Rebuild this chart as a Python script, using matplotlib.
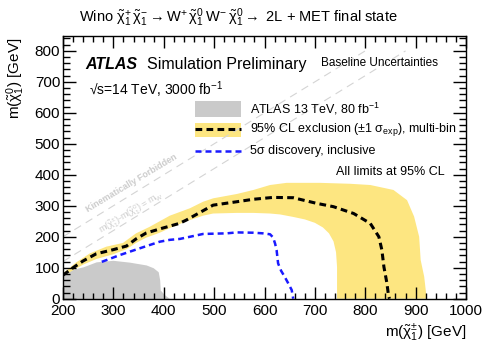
import matplotlib
matplotlib.use("Agg")
import matplotlib.pyplot as plt
from matplotlib.patches import Rectangle
from matplotlib.lines import Line2D
from matplotlib.ticker import MultipleLocator

plt.rcParams['font.family'] = ['Liberation Sans', 'DejaVu Sans']
plt.rcParams['mathtext.fontset'] = 'custom'
plt.rcParams['mathtext.rm'] = 'Liberation Sans'
plt.rcParams['mathtext.it'] = 'Liberation Sans:italic'
plt.rcParams['mathtext.bf'] = 'Liberation Sans:bold'

# ATLAS 13 TeV, 80 fb-1 excluded region
gray_x = [200, 220, 240, 266, 299, 332, 365, 379, 389, 392, 393, 402, 412]
gray_y = [80, 95, 103, 119, 124, 118, 109, 100, 87, 60, 28, 12, 0]

# expected 95% CL exclusion (multi-bin)
exp_x = [200, 220, 240, 266, 299, 326, 345, 365, 398, 431, 445, 478, 498, 545,
         578, 617, 657, 703, 737, 777, 810, 827, 833, 837, 843, 846, 848]
exp_y = [76, 100, 122, 145, 158, 170, 193, 212, 228, 243, 254, 284, 302, 313,
         321, 327, 326, 308, 297, 275, 243, 200, 157, 103, 50, 12, 0]

# +-1 sigma band edges
band_up_x = [200, 226, 253, 286, 319, 345, 372, 412, 452, 478, 498, 545, 578,
             611, 644, 710, 770, 810, 856, 883, 897, 907, 910, 917, 922]
band_up_y = [82, 117, 146, 168, 180, 211, 232, 268, 292, 313, 324, 338, 351,
             367, 374, 374, 371, 367, 351, 318, 265, 200, 125, 71, 0]
band_lo_x = [744, 744, 742, 737, 728, 716, 700, 680, 657, 631, 611, 578, 545,
             498, 478, 445, 412, 392, 365, 345, 326, 299, 266, 240, 220, 200]
band_lo_y = [0, 103, 150, 185, 211, 230, 245, 256, 264, 272, 275, 277, 277,
             275, 268, 250, 228, 213, 197, 180, 160, 143, 128, 110, 92, 72]

# 5 sigma discovery (inclusive)
disc_x = [277, 313, 353, 392, 412, 432, 478, 525, 545, 578, 597, 611, 617,
          621, 624, 627, 633, 640, 647, 654, 657]
disc_y = [119, 141, 163, 184, 190, 193, 209, 211, 214, 213, 211, 208, 198,
          178, 157, 114, 90, 71, 50, 28, 0]

# kinematic lines
kin_x = [200, 800]
kin_y = [200, 800]
mw_x = [200, 880]
mw_y = [120, 800]

yellow = '#fde681'
grey = '#cacaca'

fig = plt.figure(figsize=(4.91, 3.52), dpi=100)
ax = fig.add_axes([0.1283, 0.1514, 0.8208, 0.7463])

ax.plot(kin_x, kin_y, color='#d4d4d4', lw=0.8, dashes=(7, 5))
ax.plot(mw_x, mw_y, color='#d4d4d4', lw=0.8, dashes=(7, 5))

ax.fill_between(gray_x, gray_y, 0, color=grey, lw=0)
ax.fill(band_up_x + band_lo_x, band_up_y + band_lo_y, color=yellow, lw=0)
ax.plot(exp_x, exp_y, color='black', lw=2.2, dashes=(2.2, 1.4))
ax.plot(disc_x, disc_y, color='#1a1aff', lw=1.8, dashes=(2.4, 1.6))

ax.set_xlim(200, 1000)
ax.set_ylim(0, 848)
ax.xaxis.set_major_locator(MultipleLocator(100))
ax.xaxis.set_minor_locator(MultipleLocator(20))
ax.yaxis.set_major_locator(MultipleLocator(100))
ax.yaxis.set_minor_locator(MultipleLocator(20))
ax.tick_params(which='both', direction='in', top=True, right=True, labelsize=11, width=1)
ax.tick_params(axis='x', which='major', length=8.5, pad=3.5)
ax.tick_params(axis='x', which='minor', length=4.5)
ax.tick_params(axis='y', which='major', length=9.5, pad=2)
ax.tick_params(axis='y', which='minor', length=5)
for s in ax.spines.values():
    s.set_linewidth(1)

tr = ax.transAxes
ax.text(0.0546, 0.892, 'ATLAS', transform=tr, fontsize=11.5, weight='bold',
        style='italic', va='center')
ax.text(0.209, 0.892, 'Simulation Preliminary', transform=tr, fontsize=11.5, va='center')
ax.text(0.640, 0.897, 'Baseline Uncertainties', transform=tr, fontsize=8.5, va='center')
ax.text(0.065, 0.797, '√s=14 TeV, 3000 fb$^{-1}$', transform=tr, fontsize=10, va='center')

# legend
ax.add_patch(Rectangle((0.3275, 0.6928), 0.1135, 0.06, transform=tr, color=grey, lw=0))
ax.add_patch(Rectangle((0.3275, 0.6144), 0.1135, 0.0556, transform=tr, color=yellow, lw=0))
ax.add_line(Line2D([0.3275, 0.441], [0.645, 0.645], transform=tr, color='black',
                   lw=2.2, dashes=(2.2, 1.4)))
ax.add_line(Line2D([0.3275, 0.441], [0.562, 0.562], transform=tr, color='#1a1aff',
                   lw=1.8, dashes=(2.4, 1.6)))
ax.text(0.464, 0.721, 'ATLAS 13 TeV, 80 fb$^{-1}$', transform=tr, fontsize=9, va='center')
ax.text(0.464, 0.645, r'95% CL exclusion (±1 $\mathrm{\sigma}_{\mathrm{exp}}$), multi-bin',
        transform=tr, fontsize=9, va='center')
ax.text(0.464, 0.562, '5σ discovery, inclusive', transform=tr, fontsize=9, va='center')
ax.text(0.948, 0.483, 'All limits at 95% CL', transform=tr, fontsize=9, va='center', ha='right')

# kinematic labels
ax.text(0.170, 0.439, 'Kinematically Forbidden', transform=tr, fontsize=6.5, weight='bold',
        color='#cccccc', rotation=31, rotation_mode='anchor', ha='center', va='center')
ax.text(0.169, 0.326, r'm($\tilde{\mathrm{\chi}}^{\pm}_{1}$)-m($\tilde{\mathrm{\chi}}^{0}_{1}$) = m$_{\mathrm{W}}$',
        transform=tr, fontsize=6.5, color='#cccccc', rotation=31, rotation_mode='anchor',
        ha='center', va='center')

# axis titles
ax.text(1.0, -0.132, r'm($\tilde{\mathrm{\chi}}^{\pm}_{1}$) [GeV]', transform=tr,
        fontsize=11, ha='right', va='center')
fig.text(0.031, 0.892, r'm($\tilde{\mathrm{\chi}}^{0}_{1}$) [GeV]', fontsize=11,
         rotation=90, ha='center', va='top')

fig.text(238 / 491, 1 - 18 / 352,
         r'Wino $\tilde{\mathrm{\chi}}^{+}_{1}\,\tilde{\mathrm{\chi}}^{-}_{1}\rightarrow \mathrm{W}^{+}\,\tilde{\mathrm{\chi}}^{0}_{1}\;\mathrm{W}^{-}\,\tilde{\mathrm{\chi}}^{0}_{1}\rightarrow$ 2L + MET final state',
         fontsize=10.5, ha='center', va='center')

fig.savefig('out.png', dpi=100)
